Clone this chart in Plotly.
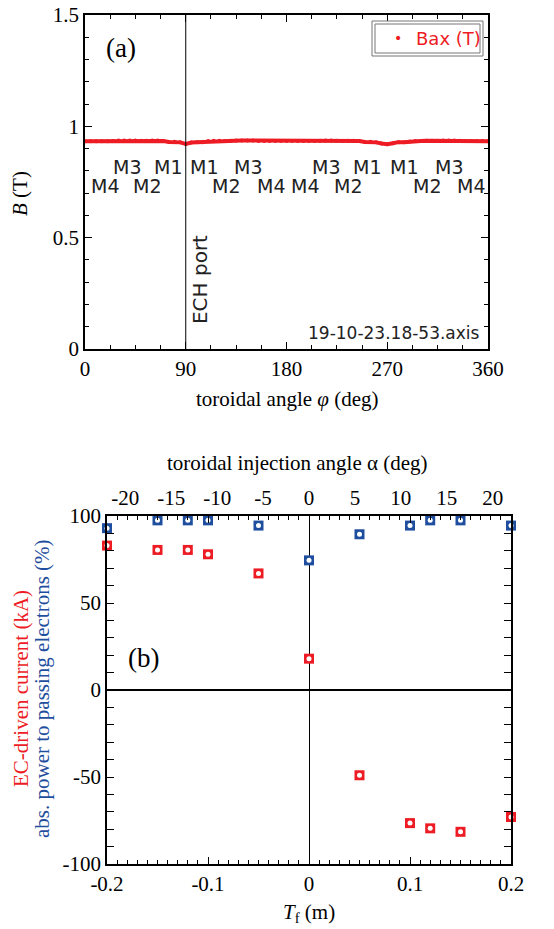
import plotly.graph_objects as go

# ---------------- data: panel (a) ----------------
phi_deg = list(range(0, 361, 5))
bax_T = [0.933, 0.933, 0.933, 0.933, 0.933, 0.934, 0.936, 0.936, 0.936, 0.936,
         0.935, 0.935, 0.936, 0.936, 0.934, 0.930, 0.931, 0.928, 0.921, 0.927,
         0.928, 0.929, 0.934, 0.935, 0.935, 0.934, 0.935, 0.936, 0.936, 0.936,
         0.936, 0.934, 0.934, 0.934, 0.934, 0.934, 0.934, 0.934, 0.934, 0.934,
         0.934, 0.934, 0.935, 0.936, 0.936, 0.935, 0.934, 0.935, 0.935, 0.934,
         0.930, 0.931, 0.928, 0.923, 0.920, 0.924, 0.929, 0.929, 0.932, 0.934,
         0.934, 0.935, 0.935, 0.935, 0.936, 0.936, 0.936, 0.935, 0.934, 0.934,
         0.934, 0.934, 0.933]

coil_upper_labels = ["M3", "M1", "M1", "M3", "M3", "M1", "M1", "M3"]
coil_upper_phi = [37.5, 74, 106, 146, 215.7, 252.3, 285.3, 325.6]
coil_lower_labels = ["M4", "M2", "M2", "M4", "M4", "M2", "M2", "M4"]
coil_lower_phi = [18.3, 55.5, 126.3, 165.8, 196.8, 234.6, 305.9, 344.8]
coil_upper_B = 0.818
coil_lower_B = 0.733
ech_port_phi = 90
shot_label = "19-10-23.18-53.axis"

# ---------------- data: panel (b) ----------------
Tf_m = [-0.2, -0.15, -0.12, -0.1, -0.05, 0.0, 0.05, 0.1, 0.12, 0.15, 0.2]
ec_current_kA = [83, 80.5, 80.5, 78, 67, 18, -49, -76.5, -79.5, -81.5, -73]
abs_power_pct = [93, 97.5, 97.5, 97.5, 94.5, 74.5, 89.5, 94.5, 97.5, 97.5, 94.5]

alpha_tickvals = [-20, -15, -10, -5, 0, 5, 10, 15, 20]
alpha_ticktext = ["-20", "-15", "-10", "-5", "0", "5", "10", "15", "20"]
Tf_tickvals = [-0.2, -0.1, 0, 0.1, 0.2]
Tf_ticktext = ["-0.2", "-0.1", "0", "0.1", "0.2"]
y2_tickvals = [-100, -50, 0, 50, 100]
y2_ticktext = ["-100", "-50", "0", "50", "100"]

RED = "#ED1C24"
BLUE = "#1F4E9E"
SERIF = "Liberation Serif"
SANS = "DejaVu Sans"

W, H = 554, 929


def px(x):
    return x / W


def py(y):
    return 1 - y / H


fig = go.Figure()

# panel (a) trace
fig.add_trace(go.Scatter(x=phi_deg, y=bax_T, mode="lines+markers",
                         line=dict(color=RED, width=4),
                         marker=dict(color=RED, size=4),
                         xaxis="x", yaxis="y", showlegend=False))

# panel (b) traces: coloured square with white dot
for vals, col in [(ec_current_kA, RED), (abs_power_pct, BLUE)]:
    fig.add_trace(go.Scatter(x=Tf_m, y=vals, mode="markers",
                             marker=dict(symbol="square", size=10, color=col,
                                         line=dict(width=0)),
                             xaxis="x2", yaxis="y2", showlegend=False,
                             cliponaxis=False))
    fig.add_trace(go.Scatter(x=Tf_m, y=vals, mode="markers",
                             marker=dict(symbol="circle", size=5, color="white",
                                         line=dict(width=0)),
                             xaxis="x2", yaxis="y2", showlegend=False,
                             cliponaxis=False))

tickfont = dict(family=SERIF, size=21, color="black")
common = dict(showline=True, linecolor="black", linewidth=1.5, mirror="allticks",
              ticks="inside", ticklen=7, tickwidth=1, tickcolor="black",
              showgrid=False, tickfont=tickfont, automargin=False)

fig.update_layout(
    width=W, height=H,
    margin=dict(l=0, r=0, t=0, b=0, pad=0, autoexpand=False),
    paper_bgcolor="white", plot_bgcolor="white",
    xaxis=dict(domain=[px(85), px(488)], anchor="y", range=[0, 360],
               tickvals=[0, 90, 180, 270, 360], zeroline=False,
               minor=dict(dtick=22.5, ticks="inside", ticklen=4, tickcolor="black"),
               **common),
    yaxis=dict(domain=[py(349), py(15)], anchor="x", range=[0, 1.5],
               tickvals=[0, 0.5, 1, 1.5], zeroline=False,
               minor=dict(dtick=0.1, ticks="inside", ticklen=4, tickcolor="black"),
               **common),
    xaxis2=dict(domain=[px(107), px(511)], anchor="y2", range=[-0.2, 0.2],
                tickvals=Tf_tickvals, ticktext=Tf_ticktext,
                zeroline=True, zerolinecolor="black", zerolinewidth=1,
                minor=dict(dtick=0.01, ticks="inside", ticklen=4, tickcolor="black"),
                **common),
    yaxis2=dict(domain=[py(864), py(516)], anchor="x2", range=[-100, 100],
                tickvals=y2_tickvals, ticktext=y2_ticktext,
                zeroline=True, zerolinecolor="black", zerolinewidth=2,
                minor=dict(dtick=10, ticks="inside", ticklen=4, tickcolor="black"),
                **common),
    xaxis3=dict(overlaying="x2", side="top", anchor="y2", range=[-22, 22],
                tickvals=alpha_tickvals, ticktext=alpha_ticktext, ticks="",
                showgrid=False, zeroline=False, showline=False, tickfont=tickfont,
                ticklabelstandoff=6, automargin=False),
)

# invisible trace to activate xaxis3
fig.add_trace(go.Scatter(x=[alpha_tickvals[0]], y=[None], xaxis="x3", yaxis="y2",
                         mode="markers", showlegend=False, hoverinfo="skip"))

shapes = [
    dict(type="line", xref="x", yref="y", x0=ech_port_phi, x1=ech_port_phi,
         y0=0, y1=1.5, line=dict(color="black", width=1)),
    dict(type="rect", xref="paper", yref="paper", x0=px(372), x1=px(483),
         y0=py(56), y1=py(21), line=dict(color="#777", width=1), fillcolor="white",
         layer="above"),
    dict(type="rect", xref="paper", yref="paper", x0=px(375), x1=px(480),
         y0=py(53), y1=py(24), line=dict(color="#777", width=1)),
]
fig.update_layout(shapes=shapes)


def note(x, y, text, font, xref="paper", yref="paper", xanchor="center", **kw):
    return dict(x=x, y=y, xref=xref, yref=yref, text=text, showarrow=False,
                xanchor=xanchor, yanchor="middle", font=font, **kw)


sans19 = dict(family=SANS, size=19, color="#222")
serif21 = dict(family=SERIF, size=21, color="black")

ann = []
for lab, ph in zip(coil_upper_labels, coil_upper_phi):
    ann.append(note(ph, coil_upper_B, lab, sans19, xref="x", yref="y"))
for lab, ph in zip(coil_lower_labels, coil_lower_phi):
    ann.append(note(ph, coil_lower_B, lab, sans19, xref="x", yref="y"))
ann += [
    note(102.7, 0.314, "ECH port", dict(family=SANS, size=20, color="#222"),
         xref="x", yref="y", textangle=-90),
    note(px(482), py(333), shot_label, dict(family=SANS, size=17, color="#222"),
         xanchor="right"),
    note(px(398), py(38), "•", dict(family=SANS, size=14, color=RED)),
    note(px(414), py(38), "Bax (T)", dict(family=SANS, size=18, color=RED),
         xanchor="left"),
    note(px(121), py(48), "(a)", dict(family=SERIF, size=27, color="black")),
    note(-0.164, 18.4, "(b)", dict(family=SERIF, size=27, color="black"),
         xref="x2", yref="y2"),
    # axis titles
    note(px(20), py(194), "<i>B</i> (T)", serif21, textangle=-90),
    note(px(287), py(399), "toroidal angle <i>φ</i> (deg)", serif21),
    note(px(297), py(463), "toroidal injection angle α (deg)", serif21),
    note(px(309), py(913), "<i>T</i><sub>f</sub> (m)", serif21),
    note(px(21), py(689), "EC-driven current (kA)",
         dict(family=SERIF, size=21, color=RED), textangle=-90),
    note(px(42), py(689), "abs. power to passing electrons (%)",
         dict(family=SERIF, size=21, color=BLUE), textangle=-90),
]
fig.update_layout(annotations=ann)

# remove the default 8 px body margin so the figure fills the window exactly
fig.write_html("out.html",
               config={"displayModeBar": False},
               post_script="document.body.style.margin='0px';"
                           "document.body.style.overflow='hidden';")
